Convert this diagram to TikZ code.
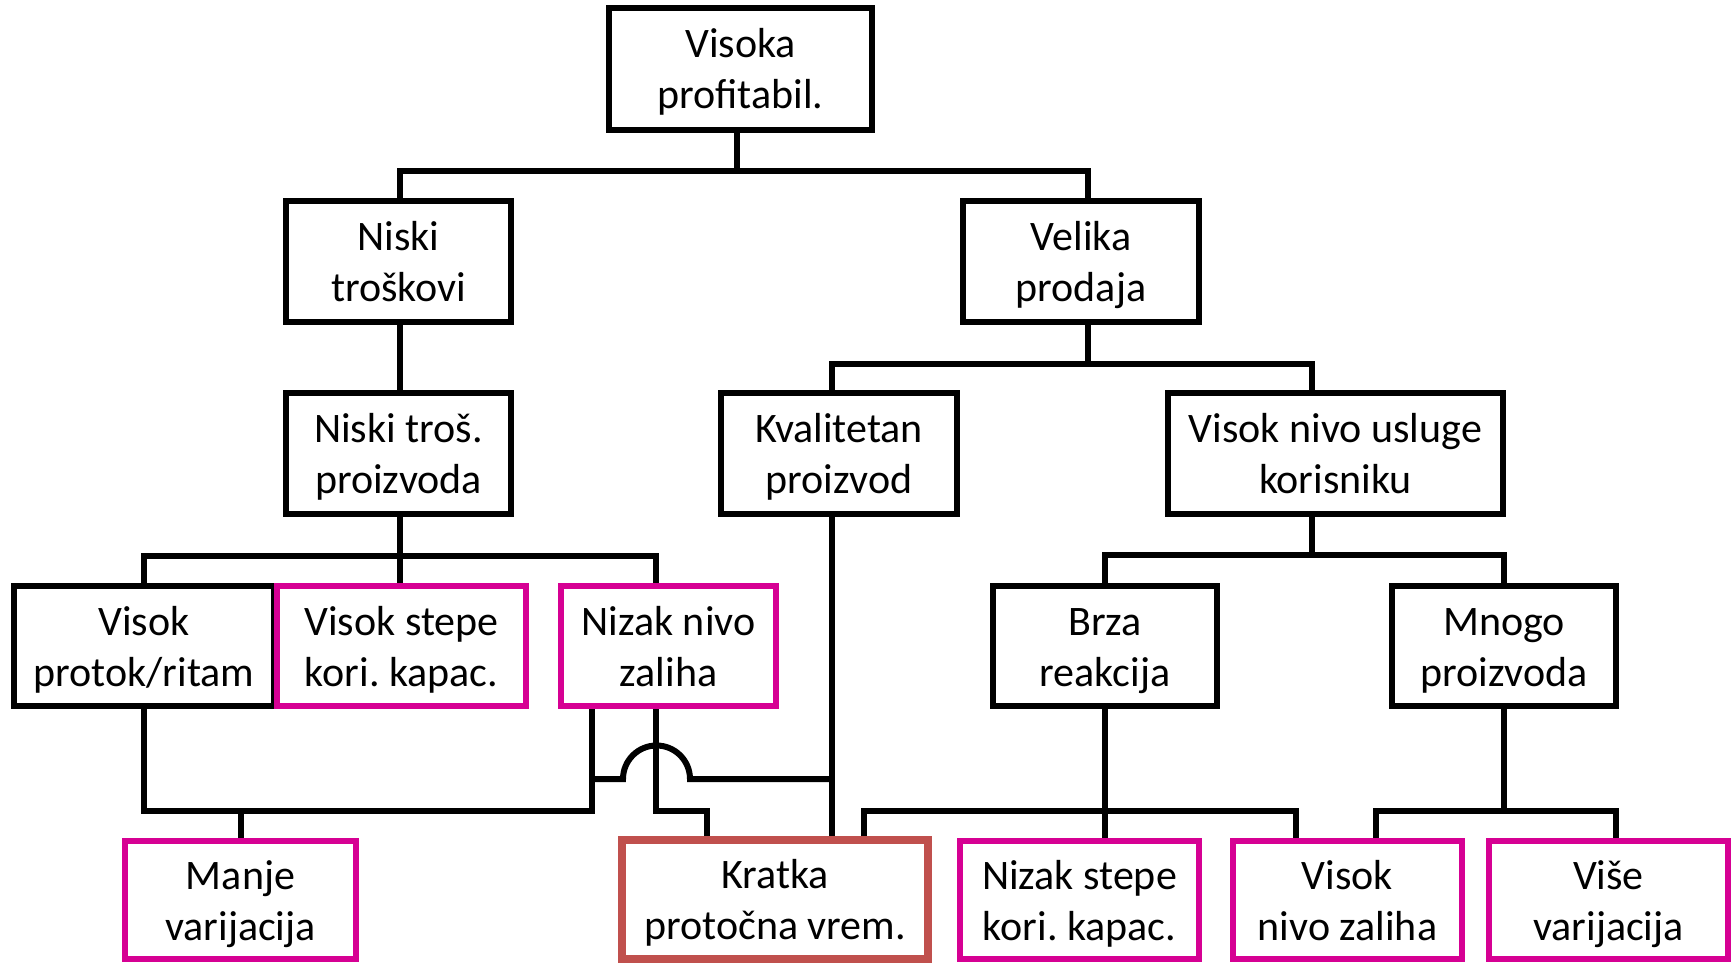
\documentclass[tikz,border=0pt]{standalone}
\usepackage{fontspec}
\setmainfont{Carlito}
\frenchspacing
\definecolor{mag}{RGB}{214,0,147}
\definecolor{brick}{RGB}{192,80,77}
% two centred lines with fixed top and bottom room
\newcommand\twoline[2]{\rule{0pt}{22pt}#1\\#2\rule[-7.5pt]{0pt}{7.5pt}}
\begin{document}
\begin{tikzpicture}[x=0.5pt,y=-0.5pt,
  box/.style={draw=black, line width=3pt, rectangle, inner sep=0pt, align=center,
              font=\fontsize{21}{25.5}\selectfont},
  hl/.style={draw=mag},
  key/.style={draw=brick, line width=4pt},
  sz/.style 2 args={minimum width=#1*0.5pt, minimum height=#2*0.5pt},
  link/.style={draw=black, line width=3pt}]

\fill[white] (0,0) rectangle (1733,963);
\useasboundingbox (0,0) rectangle (1733,963);

% boxes
\node[box, sz={263}{122}] (top) at (740.5,69) {\twoline{Visoka}{profitabil.}};
\node[box, sz={225}{121}] (nt)  at (398.5,261.5) {\twoline{Niski}{troškovi}};
\node[box, sz={236}{121}] (vp)  at (1081,261.5) {\twoline{Velika}{prodaja}};
\node[box, sz={225}{121}] (ntp) at (398.5,453.5) {\twoline{Niski troš.}{proizvoda}};
\node[box, sz={236}{121}] (kv)  at (839,453.5) {\twoline{Kvalitetan}{proizvod}};
\node[box, sz={335}{121}] (us)  at (1335.5,453.5) {\twoline{Visok nivo usluge}{korisniku}};
\node[box, sz={260}{120}] (vpr) at (144,646) {\twoline{Visok}{protok/ritam}};
\node[box, hl, sz={249}{120}] (vs) at (401.5,646) {\twoline{Visok stepe}{kori. kapac.}};
\node[box, hl, sz={215}{120}] (nn) at (668.5,646) {\twoline{Nizak nivo}{zaliha}};
\node[box, sz={224}{120}] (br)  at (1105,646) {\twoline{Brza}{reakcija}};
\node[box, sz={224}{120}] (mn)  at (1504,646) {\twoline{Mnogo}{proizvoda}};
\node[box, hl, sz={231}{118}] (mv) at (240.5,900) {\twoline{Manje}{varijacija}};
\node[box, key, sz={306}{119}] (kr) at (775,899.5) {\twoline{Kratka}{protočna vrem.}};
\node[box, hl, sz={239}{118}] (ns) at (1079.5,900) {\twoline{Nizak stepe}{kori. kapac.}};
\node[box, hl, sz={229}{118}] (vz) at (1347.5,900) {\twoline{Visok}{nivo zaliha}};
\node[box, hl, sz={239}{118}] (vv) at (1608.5,900) {\twoline{Više}{varijacija}};

% level 1
\draw[link] ([xshift=-2pt]top.south) -- ++(0,38) coordinate (t1);
\draw[link] ([xshift=0.75pt]nt.north) |- (t1) -| ([xshift=3.25pt]vp.north);

% level 2
\draw[link] ([xshift=0.75pt]nt.south) -- ([xshift=0.75pt]ntp.north);
\draw[link] ([xshift=3.25pt]vp.south) -- ++(0,39) coordinate (v1);
\draw[link] ([xshift=-3.5pt]kv.north) |- (v1) -| ([xshift=-11.75pt]us.north);

% level 3
\draw[link] ([xshift=0.75pt]ntp.south) -- ++(0,39) coordinate (n1);
\draw[link] (vpr.north) |- (n1) -| ([xshift=-6.25pt]nn.north);
\draw[link] (n1) -- ([xshift=-0.75pt]vs.north);
\draw[link] ([xshift=-11.75pt]us.south) -- ++(0,38) coordinate (u1);
\draw[link] (br.north) |- (u1) -| (mn.north);

% bottom level
\coordinate (nnL) at ([xshift=-38.25pt]nn.south);
\coordinate (nnC) at ([xshift=-6.25pt]nn.south);
\coordinate (kvb) at ([xshift=-3.5pt]kv.south);
\draw[link] (vpr.south) -- ++(0,102) coordinate (m1) -| (nnL);
\draw[link] (mv.north) -- (mv.north |- m1);
\draw[link] (kvb) -- ([xshift=28.5pt]kr.north);
\path (nnL) ++(0,70) coordinate (h0);
\draw[link] (h0) -- ++(31,0) arc[start angle=180, end angle=0, radius=16.75pt] -- (kvb |- h0);
\draw[link] (nnC) -- ++(0,102) -| ([xshift=-34pt]kr.north);

\draw[link] (br.south) -- ++(0,102) coordinate (r1);
\draw[link] (r1) -- (r1 |- ns.north);
\draw[link] ([xshift=44.5pt]kr.north) |- (r1) -| ([xshift=-25.75pt]vz.north);

\draw[link] (mn.south) -- ++(0,102) coordinate (p1);
\draw[link] ([xshift=14.25pt]vz.north) |- (p1) -| ([xshift=3.75pt]vv.north);
\end{tikzpicture}
\end{document}
